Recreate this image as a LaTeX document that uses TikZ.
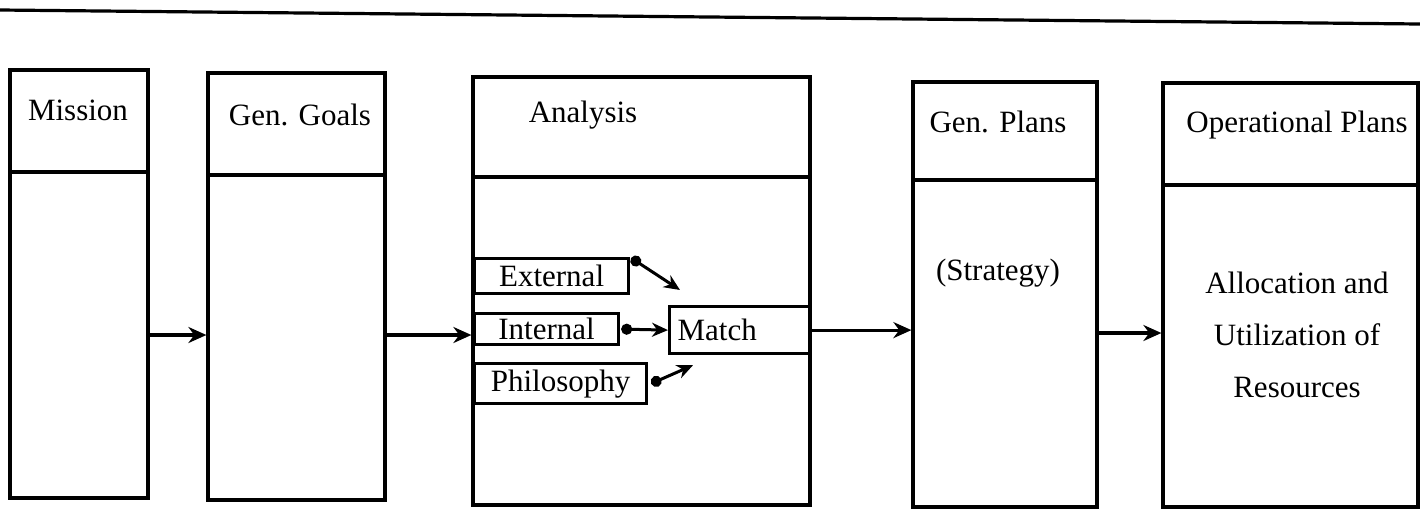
\documentclass[tikz,border=0pt]{standalone}
\usepackage{fontspec}
\setmainfont{Liberation Serif}
\usetikzlibrary{arrows.meta,calc,fit}

\begin{document}
\begin{tikzpicture}[x=0.5pt,y=-0.5pt,>={Stealth[length=9pt,width=8pt]},line width=1.6pt,
  every node/.style={font=\fontsize{15.5}{19}\selectfont},
  col/.style={draw,inner sep=0pt,fit={#1}},
  tag/.style={draw,inner sep=0pt,anchor=north west,minimum height=#1},
  dotarrow/.style={{Circle[length=5.5pt]}-{Stealth[length=8pt,width=7pt]},line width=1.5pt}]
  \useasboundingbox (0,0) rectangle (1420,510);
  \draw (0,10) -- (1420,24);
  % the five columns
  \node[col={(10,70) (148,498)}] (mission) {};
  \node[col={(208,73) (385,500)}] (goals) {};
  \node[col={(473,77) (810,505)}] (analysis) {};
  \node[col={(913,82) (1097,507)}] (plans) {};
  \node[col={(1163,83) (1418,507)}] (ops) {};
  \foreach \b/\y in {mission/172,goals/175,analysis/177,plans/180,ops/185}
    \draw (\b.west |- 0,\y) -- (\b.east |- 0,\y);
  % headers
  \node (mission-h) at (78,110) {Mission};
  \node (goals-h) at (300,115) {Gen. Goals};
  \node (analysis-h) at (583,115) {Analysis};
  \node (plans-h) at (998,122) {Gen. Plans};
  \node (ops-h) at (1297,125) {Operational Plans};
  \node (strategy) at (998,273) {(Strategy)};
  \node[align=center,font=\fontsize{15.5}{26}\selectfont] (alloc) at (1297,335)
    {Allocation and\\Utilization of\\Resources};
  % analysis inputs
  \node[tag=17.5pt,minimum width=77pt] (external) at (473,257) {External};
  \node[tag=15.5pt,minimum width=72pt] (internal) at (473,312) {Internal};
  \node[tag=20pt,minimum width=86pt] (philosophy) at (473,362) {Philosophy};
  \node[draw,anchor=north west,minimum height=23.5pt,text width=62pt,
    inner xsep=4pt,inner ysep=0pt] (match) at (668,305) {Match};
  \draw[dotarrow] ($(external.north east)+(1,1)$) -- ($(match.north west)+(12,-15)$);
  \draw[dotarrow] ($(internal.east)+(1,0)$) -- (match.west);
  \draw[dotarrow] ($(philosophy.east)+(3,0)$) -- ($(match.south west)+(25,10)$);
  % flow between columns
  \coordinate (row) at (0,335);
  \draw[->] (mission.east |- row) -- (goals.west |- row);
  \draw[->] (goals.east |- row) -- (analysis.west |- row);
  \draw[->] (match.east) -- (plans.west |- match.east);
  \draw[->] (plans.east |- 0,333) -- (ops.west |- 0,333);
\end{tikzpicture}
\end{document}
